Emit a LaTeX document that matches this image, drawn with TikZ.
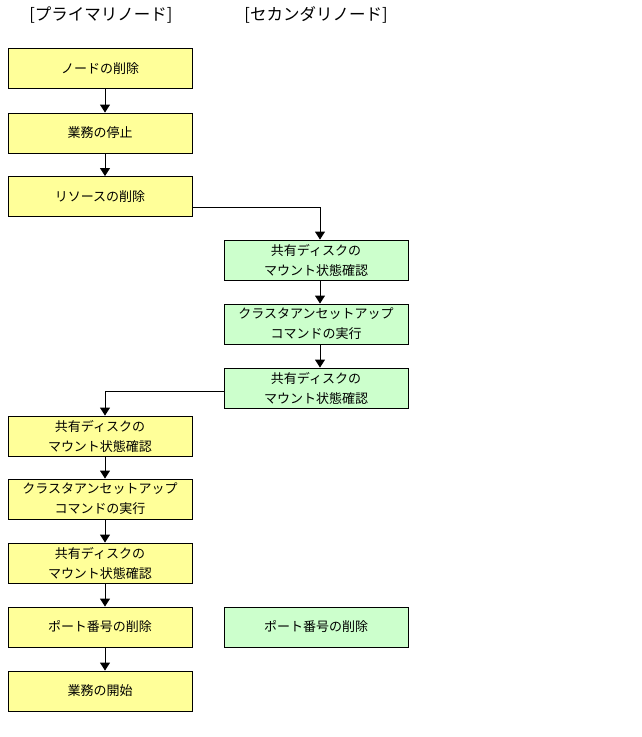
\documentclass[tikz,border=0pt]{standalone}
\usepackage{fontspec}
\setmainfont{Noto Sans CJK JP}
\usetikzlibrary{arrows.meta}
\definecolor{pyellow}{HTML}{FFFF99}
\definecolor{sgreen}{HTML}{CCFFCC}
\tikzset{
  box/.style={draw=black, line width=0.9pt, rectangle, minimum width=184pt, minimum height=40pt, inner sep=0pt, align=center, font=\fontsize{13}{20}\selectfont},
  ybox/.style={box, fill=pyellow},
  gbox/.style={box, fill=sgreen},
  hdr/.style={font=\fontsize{16.5}{18}\selectfont, inner sep=0pt},
  conn/.style={draw=black, line width=0.9pt, -{Triangle[length=8pt,width=10pt]}}
}
\begin{document}
\begin{tikzpicture}[x=1pt,y=-1pt]
\useasboundingbox (0,0) rectangle (641,737);
\node[hdr] (h1) at (101,15) {[プライマリノード]};
\node[hdr] (h2) at (316,15) {[セカンダリノード]};
\node[ybox] (y1) at (100,68.5) {ノードの削除};
\node[ybox] (y2) at (100,133) {業務の停止};
\node[ybox] (y3) at (100,196.5) {リソースの削除};
\node[gbox] (g1) at (316,260) {共有ディスクの\\マウント状態確認};
\node[gbox] (g2) at (316,324) {クラスタアンセットアップ\\コマンドの実行};
\node[gbox] (g3) at (316,388) {共有ディスクの\\マウント状態確認};
\node[ybox] (y4) at (100,436) {共有ディスクの\\マウント状態確認};
\node[ybox] (y5) at (100,499) {クラスタアンセットアップ\\コマンドの実行};
\node[ybox] (y6) at (100,563) {共有ディスクの\\マウント状態確認};
\node[ybox] (y7) at (100,627) {ポート番号の削除};
\node[gbox] (g4) at (316,627) {ポート番号の削除};
\node[ybox] (y8) at (100,691) {業務の開始};
\coordinate (lx) at (105,0);
\coordinate (rx) at (320,0);
\coordinate (e1) at (0,207);
\coordinate (e2) at (0,391);
\draw[conn] (y1.south -| lx) -- (y2.north -| lx);
\draw[conn] (y2.south -| lx) -- (y3.north -| lx);
\draw[conn] (y3.east |- e1) -| (g1.north -| rx);
\draw[conn] (g1.south -| rx) -- (g2.north -| rx);
\draw[conn] (g2.south -| rx) -- (g3.north -| rx);
\draw[conn] (g3.west |- e2) -| (y4.north -| lx);
\draw[conn] (y4.south -| lx) -- (y5.north -| lx);
\draw[conn] (y5.south -| lx) -- (y6.north -| lx);
\draw[conn] (y6.south -| lx) -- (y7.north -| lx);
\draw[conn] (y7.south -| lx) -- (y8.north -| lx);
\end{tikzpicture}
\end{document}
